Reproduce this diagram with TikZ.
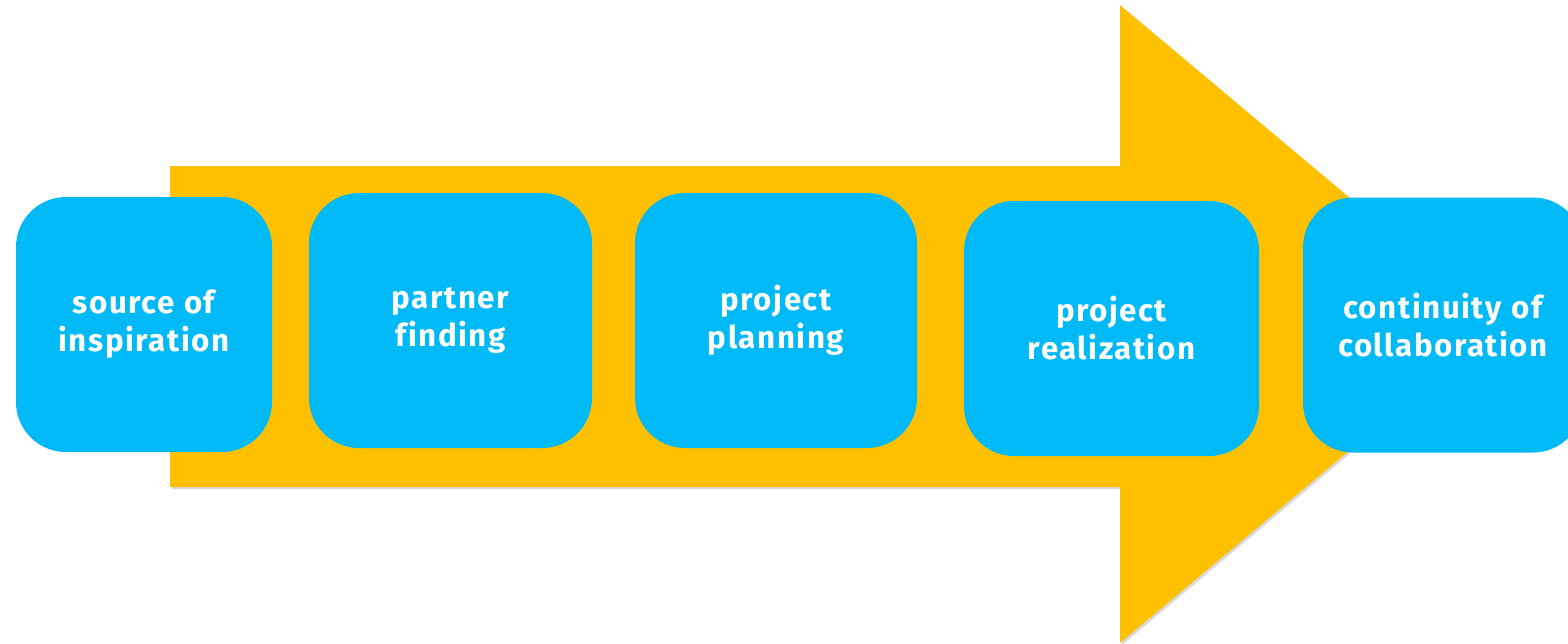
\documentclass[tikz,border=0pt]{standalone}
\usepackage{fontspec}
\setmainfont{Fira Sans}
\newfontfamily\stagefont[LetterSpace=5, Ligatures=NoCommon]{Fira Sans}
\definecolor{arrowyellow}{HTML}{FFC000}
\definecolor{boxblue}{HTML}{00B9F7}
\tikzset{
	stagebox/.style={fill=boxblue, rounded corners=1cm, minimum height=255*0.02cm, align=center, text=white, font=\stagefont\fontsize{17.8}{21.6}\selectfont\bfseries, inner sep=0pt},
}

\begin{document}
\begin{tikzpicture}[x={(0.02cm,0)}, y={(0,-0.02cm)}]

	\useasboundingbox (0,0) rectangle (1568,643);

	\fill[black!15] (172,168) -- (1122,168) -- (1122,8) -- (1502,326) -- (1122,645) -- (1122,489) -- (172,489) -- cycle;
	\fill[arrowyellow] (170,166) -- (1120,166) -- (1120,5) -- (1500,324) -- (1120,643) -- (1120,487) -- (170,487) -- cycle;

	\node[stagebox, minimum width=256*0.02cm] (inspiration) at (144,324.5) {source of\\inspiration};
	\node[stagebox, minimum width=283*0.02cm] (partner) at (450.5,320.5) {partner\\finding};
	\node[stagebox, minimum width=282*0.02cm] (planning) at (776,320.5) {project\\planning};
	\node[stagebox, minimum width=295*0.02cm] (realization) at (1111.5,328.5) {project\\realization};
	\node[stagebox, minimum width=280*0.02cm, text width=265*0.02cm] (continuity) at (1443,325) {continuity of\\collaboration};

\end{tikzpicture}
\end{document}
